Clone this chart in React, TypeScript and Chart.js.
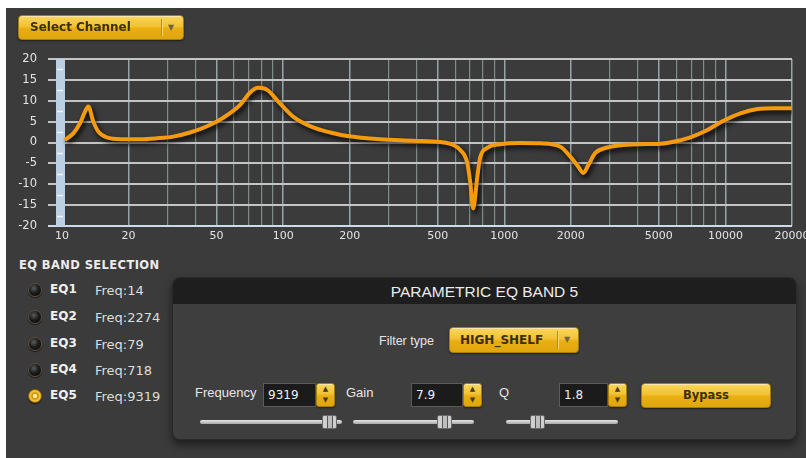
import React, { useEffect, useRef } from "react";
import { Chart, registerables } from "chart.js";

Chart.register(...registerables);

// ---- Data ----
const frequencies = [10.3, 11.25, 12.06, 12.71, 13.15, 13.86, 14.6, 15.93, 18.88, 22.54, 26.9, 31.8, 37.9, 45.3, 53.5, 63.9, 70.9, 77.1, 84.7, 96.9, 110.9, 136.7, 163.2, 194.8, 274.8, 387.5, 513.3, 587.6, 632.3, 680.2, 702, 724, 754.7, 778.8, 837.6, 959, 1181, 1455, 1792, 1989, 2161, 2278, 2399, 2581, 2924, 3455, 4123, 4922, 5818, 6944, 8291, 9793, 11694, 13958, 16489, 20000];
const responseDb = [0.6, 2.2, 4.6, 7.4, 8.6, 5.0, 2.6, 1.25, 0.8, 0.77, 1.0, 1.4, 2.4, 3.9, 5.9, 9.0, 12.0, 13.1, 12.6, 9.3, 6.2, 3.6, 2.4, 1.56, 0.77, 0.43, 0.1, -0.6, -1.8, -4.9, -9.7, -15.8, -8.3, -3.5, -1.3, -0.4, -0.1, -0.2, -1.0, -3.4, -5.8, -7.3, -5.4, -2.5, -1.2, -0.6, -0.4, -0.35, 0.2, 1.25, 3.0, 5.2, 7.0, 8.0, 8.2, 8.2];

const xLabelValues = [10, 20, 50, 100, 200, 500, 1000, 2000, 5000, 10000, 20000];
const xGridValues = [10, 20, 30, 40, 50, 60, 70, 80, 90, 100, 200, 300, 400, 500, 600, 700, 800, 900, 1000, 2000, 3000, 4000, 5000, 6000, 7000, 8000, 9000, 10000, 20000];
const yTickValues = [-20, -15, -10, -5, 0, 5, 10, 15, 20];
const yMinorValues = [-17.5, -12.5, -7.5, -2.5, 2.5, 7.5, 12.5, 17.5];

const bands = ["EQ1", "EQ2", "EQ3", "EQ4", "EQ5"];
const bandFreqs = [14, 2274, 79, 718, 9319];
const selectedBand = 4;

const FONT = '"DejaVu Sans", Verdana, sans-serif';
const SANS = '"Liberation Sans", Arial, sans-serif';

const bandPlugin = {
  id: "leftBand",
  beforeDatasetsDraw(chart: any) {
    const { ctx, chartArea, scales } = chart;
    const y = scales.y;
    ctx.save();
    ctx.fillStyle = "#bcd0e4";
    ctx.fillRect(chartArea.left - 6, chartArea.top, 9, chartArea.bottom - chartArea.top);
    ctx.strokeStyle = "#f2f6fb";
    ctx.lineWidth = 1.5;
    yMinorValues.forEach((v) => {
      const py = Math.round(y.getPixelForValue(v)) + 0.5;
      ctx.beginPath();
      ctx.moveTo(chartArea.left - 5, py);
      ctx.lineTo(chartArea.left + 1, py);
      ctx.stroke();
    });
    ctx.restore();
  },
};

const shadowPlugin = {
  id: "lineShadow",
  beforeDatasetDraw(chart: any) {
    const c = chart.ctx;
    c.save();
    c.shadowColor = "rgba(0,0,0,0.9)";
    c.shadowBlur = 5;
    c.shadowOffsetX = 2;
    c.shadowOffsetY = 3;
  },
  afterDatasetDraw(chart: any) {
    chart.ctx.restore();
  },
};

function EqChart() {
  const ref = useRef<HTMLCanvasElement | null>(null);
  useEffect(() => {
    if (!ref.current) return;
    const chart = new Chart(ref.current, {
      type: "line",
      data: {
        datasets: [
          {
            data: frequencies.map((f, i) => ({ x: f, y: responseDb[i] })),
            borderColor: "#f39a0e",
            borderWidth: 4,
            pointRadius: 0,
            cubicInterpolationMode: "monotone",
            fill: false,
          },
        ],
      },
      options: {
        responsive: false,
        animation: false,
        layout: { padding: { top: 59, right: 14, bottom: 0, left: 0 } },
        plugins: { legend: { display: false }, tooltip: { enabled: false } },
        scales: {
          x: {
            type: "logarithmic",
            min: 10,
            max: 20000,
            afterBuildTicks: (s: any) => {
              s.ticks = xGridValues.map((v) => ({ value: v }));
            },
            afterFit: (s: any) => {
              s.height = 24;
              s.paddingLeft = 0;
              s.paddingRight = 0;
            },
            ticks: {
              autoSkip: false,
              maxRotation: 0,
              minRotation: 0,
              padding: 4,
              color: "#e4e4e4",
              font: { family: FONT, size: 11 },
              callback: (v: any) => (xLabelValues.includes(Number(v)) ? String(v) : ""),
            },
            grid: {
              drawTicks: false,
              color: (c: any) => (c.tick && xLabelValues.includes(c.tick.value) ? "#98a5a7" : "#808b8c"),
              lineWidth: (c: any) => (c.tick && xLabelValues.includes(c.tick.value) ? 1.5 : 1.2),
            },
            border: { display: false },
          },
          y: {
            min: -20,
            max: 20,
            afterBuildTicks: (s: any) => {
              s.ticks = yTickValues.map((v) => ({ value: v }));
            },
            afterFit: (s: any) => {
              s.width = 62;
            },
            ticks: {
              padding: 11,
              color: "#e4e4e4",
              font: { family: FONT, size: 11.5 },
            },
            grid: {
              tickLength: 14,
              color: (c: any) => (c.tick && c.tick.value === -20 ? "#cadcec" : "#c4c4c4"),
              tickColor: (c: any) => (c.tick && c.tick.value === -20 ? "#cadcec" : "#c4c4c4"),
              lineWidth: 2,
            },
            border: { display: false },
          },
        },
      },
      plugins: [bandPlugin, shadowPlugin],
    } as any);
    return () => chart.destroy();
  }, []);
  return (
    <canvas
      ref={ref}
      width={806}
      height={250}
      style={{ position: "absolute", left: 0, top: 0, width: 806, height: 250 }}
    />
  );
}

const yellowBg = "linear-gradient(#f9d75e 0%, #f2c232 45%, #e8ae12 55%, #e0a60c 100%)";

function YellowBox(props: { left: number; top: number; width: number; height: number; children?: any; style?: any }) {
  return (
    <div
      style={{
        position: "absolute",
        left: props.left,
        top: props.top,
        width: props.width,
        height: props.height,
        background: yellowBg,
        border: "1px solid #a97d0c",
        borderRadius: 4,
        boxSizing: "border-box",
        boxShadow: "inset 0 1px 0 rgba(255,255,255,0.45), 0 1px 2px rgba(0,0,0,0.5)",
        ...(props.style || {}),
      }}
    >
      {props.children}
    </div>
  );
}

function Dropdown(props: { left: number; top: number; width: number; height: number; label: string; textLeft: number; divider: number; size: number }) {
  return (
    <YellowBox left={props.left} top={props.top} width={props.width} height={props.height}>
      <div
        style={{
          position: "absolute",
          left: props.textLeft,
          top: 0,
          lineHeight: props.height - 2 + "px",
          fontFamily: FONT,
          fontWeight: "bold",
          fontSize: props.size,
          color: "#3b2e0c",
          whiteSpace: "nowrap",
        }}
      >
        {props.label}
      </div>
      <div style={{ position: "absolute", left: props.divider, top: 3, width: 1, height: props.height - 8, background: "#b88a16", borderRight: "1px solid #f8d870" }} />
      <div
        style={{
          position: "absolute",
          left: props.divider + 7,
          top: 0,
          lineHeight: props.height - 2 + "px",
          fontSize: 8,
          color: "#6e6248",
          fontFamily: FONT,
        }}
      >
        ▼
      </div>
    </YellowBox>
  );
}

function NumberInput(props: { left: number; top: number; width: number; value: string }) {
  return (
    <>
      <div
        style={{
          position: "absolute",
          left: props.left,
          top: props.top,
          width: props.width,
          height: 24,
          background: "#1b1b1b",
          border: "1px solid #5a5a5a",
          boxSizing: "border-box",
          fontFamily: FONT,
          fontSize: 12,
          color: "#f0f0f0",
          lineHeight: "22px",
          paddingLeft: 4,
        }}
      >
        {props.value}
      </div>
      <YellowBox left={props.left + props.width} top={props.top} width={19} height={24} style={{ borderRadius: 3 }}>
        <div style={{ position: "absolute", left: 0, width: 17, top: 1, textAlign: "center", fontSize: 7, color: "#4a3a10", fontFamily: FONT }}>▲</div>
        <div style={{ position: "absolute", left: 0, width: 17, top: 12, textAlign: "center", fontSize: 7, color: "#4a3a10", fontFamily: FONT }}>▼</div>
      </YellowBox>
    </>
  );
}

function Slider(props: { left: number; width: number; thumb: number }) {
  return (
    <>
      <div
        style={{
          position: "absolute",
          left: props.left,
          top: 420,
          width: props.width,
          height: 4,
          borderRadius: 2,
          background: "linear-gradient(#e6e6e6, #a8a8a8)",
        }}
      />
      <div
        style={{
          position: "absolute",
          left: props.thumb,
          top: 415,
          width: 15,
          height: 14,
          borderRadius: 2,
          background: "linear-gradient(90deg, #cfcfcf 0, #cfcfcf 4px, #555 4px, #555 5px, #bdbdbd 5px, #bdbdbd 9px, #555 9px, #555 10px, #cfcfcf 10px)",
          border: "1px solid #6a6a6a",
          boxSizing: "border-box",
        }}
      />
    </>
  );
}

function Radio(props: { on: boolean; top: number }) {
  return (
    <div
      style={{
        position: "absolute",
        left: 28,
        top: props.top - 7,
        width: 14,
        height: 14,
        borderRadius: "50%",
        boxSizing: "border-box",
        border: props.on ? "1px solid #8a6008" : "1px solid #5b4f3e",
        background: props.on
          ? "radial-gradient(circle at 50% 50%, #fff4c0 0, #fbe48a 22%, #c98a08 32%, #f3c53a 55%, #e0a010 100%)"
          : "radial-gradient(circle at 40% 35%, #5c5c5c 0, #1c1c1c 45%, #050505 100%)",
        boxShadow: "0 1px 1px rgba(0,0,0,0.6)",
      }}
    />
  );
}

const label = (text: string, left: number, top: number, extra: any = {}) => (
  <div
    style={{
      position: "absolute",
      left,
      top,
      fontFamily: SANS,
      fontSize: 13,
      color: "#e6e6e6",
      whiteSpace: "nowrap",
      lineHeight: "16px",
      ...extra,
    }}
  >
    {text}
  </div>
);

export default function App() {
  const rowY = [290, 317, 344, 370, 396];
  return (
    <div style={{ position: "absolute", left: 0, top: 0, width: 806, height: 458, overflow: "hidden" }}>
      <div style={{ position: "absolute", left: 6, top: 8, width: 800, height: 450, background: "#3b3b3b" }} />
      <EqChart />
      <Dropdown left={18} top={15} width={166} height={25} label="Select Channel" textLeft={11} divider={142} size={12} />

      <div
        style={{
          position: "absolute",
          left: 19,
          top: 258,
          fontFamily: FONT,
          fontWeight: "bold",
          fontSize: 11.5,
          color: "#ececec",
          letterSpacing: 0.4,
          whiteSpace: "nowrap",
        }}
      >
        EQ BAND SELECTION
      </div>
      {bands.map((b, i) => (
        <React.Fragment key={b}>
          <Radio on={i === selectedBand} top={rowY[i]} />
          <div
            style={{
              position: "absolute",
              left: 50,
              top: rowY[i] - 9,
              fontFamily: FONT,
              fontWeight: "bold",
              fontSize: 12,
              color: "#f0f0f0",
              lineHeight: "16px",
            }}
          >
            {b}
          </div>
          <div
            style={{
              position: "absolute",
              left: 95,
              top: rowY[i] - 7,
              fontFamily: FONT,
              fontSize: 13,
              color: "#dedede",
              lineHeight: "16px",
              whiteSpace: "nowrap",
            }}
          >
            {"Freq:" + bandFreqs[i]}
          </div>
        </React.Fragment>
      ))}

      {/* Parametric panel */}
      <div
        style={{
          position: "absolute",
          left: 172,
          top: 277,
          width: 625,
          height: 163,
          borderRadius: 8,
          background: "#3e3e3e",
          border: "1px solid #2a2a2a",
          boxSizing: "border-box",
          boxShadow: "0 5px 9px rgba(0,0,0,0.5)",
          overflow: "hidden",
        }}
      >
        <div
          style={{
            position: "absolute",
            left: 0,
            top: 0,
            width: "100%",
            height: 26,
            background: "#1e1e1e",
            textAlign: "center",
            lineHeight: "27px",
            fontFamily: SANS,
            fontSize: 15.5,
            color: "#ececec",
          }}
        >
          PARAMETRIC EQ BAND 5
        </div>
      </div>

      {label("Filter type", 379, 333, { fontSize: 12.5 })}
      <Dropdown left={449} top={327} width={130} height={26} label="HIGH_SHELF" textLeft={10} divider={107} size={12} />

      {label("Frequency", 195, 385)}
      <NumberInput left={263} top={383} width={53} value="9319" />
      {label("Gain", 346, 385)}
      <NumberInput left={411} top={383} width={52} value="7.9" />
      {label("Q", 499, 385)}
      <NumberInput left={559} top={383} width={49} value="1.8" />

      <YellowBox left={641} top={383} width={130} height={25}>
        <div
          style={{
            position: "absolute",
            left: 0,
            width: "100%",
            top: 0,
            textAlign: "center",
            lineHeight: "23px",
            fontFamily: FONT,
            fontWeight: "bold",
            fontSize: 11.5,
            color: "#3b2e0c",
          }}
        >
          Bypass
        </div>
      </YellowBox>

      <Slider left={200} width={142} thumb={322} />
      <Slider left={353} width={121} thumb={437} />
      <Slider left={506} width={112} thumb={530} />
    </div>
  );
}
